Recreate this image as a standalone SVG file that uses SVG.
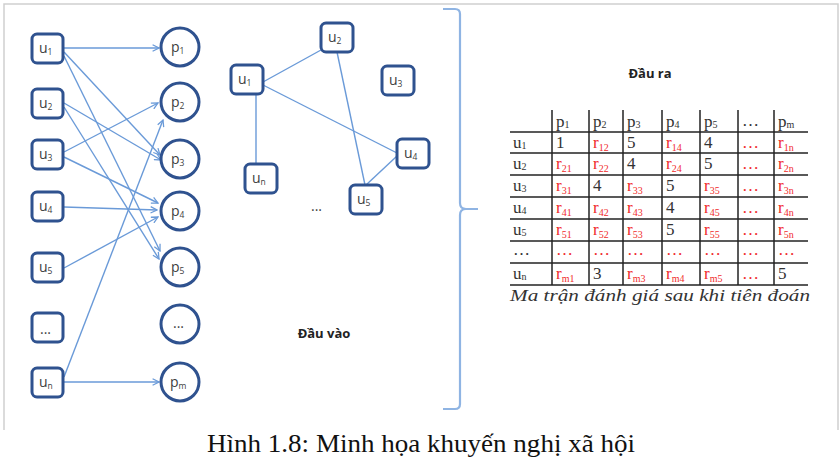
<svg xmlns="http://www.w3.org/2000/svg" width="840" height="462" viewBox="0 0 840 462">
<style>
.frame{fill:none;stroke:#cfcfcf;stroke-width:1.5}
.ub{fill:#fff;stroke:#2f528f;stroke-width:3}
.pc{fill:#fff;stroke:#2f528f;stroke-width:3}
.lbl{font-family:"Open Sans","Liberation Sans",sans-serif;font-size:14px;fill:#404040}
.sb{font-size:8.5px}
.e{fill:none;stroke:#6a9ad8;stroke-width:1.4}
.ea{fill:none;stroke:#6a9ad8;stroke-width:1.4;marker-end:url(#ar)}
.brace{fill:none;stroke:#8fb4e3;stroke-width:2.2}
.hd{font-family:"Open Sans","Liberation Sans",sans-serif;font-size:13px;font-weight:bold;fill:#222}
.tl{stroke:#222;stroke-width:1.5}
.tk{font-family:"Liberation Serif",serif;font-size:17px;fill:#333}
.tr{font-family:"Liberation Serif",serif;font-size:17px;fill:#f02b2b}
.ts{font-size:10px}
.cap{font-family:"Liberation Serif",serif;font-size:17px;font-style:italic;fill:#333}
.fig{font-family:"Liberation Serif",serif;font-size:25px;fill:#111}
</style>
<defs>
<marker id="ar" viewBox="0 0 10 10" refX="9" refY="5" markerWidth="8" markerHeight="8" markerUnits="userSpaceOnUse" orient="auto">
<path d="M1,1 L9,5 L1,9" fill="none" stroke="#6a9ad8" stroke-width="1.6"/>
</marker>
</defs>
<rect width="840" height="462" fill="#fff"/>
<polyline class="frame" points="4,430 4,4 838,4 838,430"/>

<g id="connectors">
<line class="ea" x1="64" y1="48" x2="159" y2="48"/>
<line class="ea" x1="64" y1="52" x2="160" y2="155"/>
<line class="ea" x1="64" y1="56" x2="160" y2="251"/>
<line class="ea" x1="64" y1="103" x2="161" y2="160"/>
<line class="ea" x1="64" y1="107" x2="159" y2="259"/>
<line class="ea" x1="64" y1="152" x2="158" y2="103"/>
<line class="ea" x1="64" y1="157" x2="158" y2="203"/>
<line class="ea" x1="64" y1="207" x2="157" y2="210"/>
<line class="ea" x1="64" y1="268" x2="158" y2="217"/>
<line class="ea" x1="64" y1="377" x2="163" y2="120"/>
<line class="ea" x1="64" y1="382" x2="159" y2="382"/>
<line class="e" x1="263" y1="82" x2="321" y2="50"/>
<line class="e" x1="263" y1="85" x2="397" y2="153"/>
<line class="e" x1="256" y1="93" x2="256" y2="163"/>
<line class="e" x1="337" y1="52" x2="365" y2="185"/>
<line class="e" x1="397" y1="156" x2="366" y2="185"/>
</g>

<g id="bu1"><rect class="ub" x="32" y="34" width="31" height="29" rx="5"/><text class="lbl" x="39" y="53">u<tspan class="sb" dy="2">1</tspan></text></g>
<g id="bu2"><rect class="ub" x="32" y="89" width="31" height="29" rx="5"/><text class="lbl" x="39" y="108">u<tspan class="sb" dy="2">2</tspan></text></g>
<g id="bu3"><rect class="ub" x="32" y="140" width="31" height="29" rx="5"/><text class="lbl" x="39" y="159">u<tspan class="sb" dy="2">3</tspan></text></g>
<g id="bu4"><rect class="ub" x="32" y="192" width="31" height="29" rx="5"/><text class="lbl" x="39" y="211">u<tspan class="sb" dy="2">4</tspan></text></g>
<g id="bu5"><rect class="ub" x="32" y="253" width="31" height="29" rx="5"/><text class="lbl" x="39" y="272">u<tspan class="sb" dy="2">5</tspan></text></g>
<g id="budots"><rect class="ub" x="32" y="313" width="31" height="29" rx="5"/><text class="lbl" x="40" y="334">...</text></g>
<g id="bun"><rect class="ub" x="32" y="368" width="31" height="29" rx="5"/><text class="lbl" x="39" y="387">u<tspan class="sb" dy="2">n</tspan></text></g>

<g id="p1"><circle class="pc" cx="180" cy="47" r="19"/><text class="lbl" x="171" y="52">p<tspan class="sb" dy="2">1</tspan></text></g>
<g id="p2"><circle class="pc" cx="180" cy="102" r="19"/><text class="lbl" x="171" y="107">p<tspan class="sb" dy="2">2</tspan></text></g>
<g id="p3"><circle class="pc" cx="180" cy="159" r="19"/><text class="lbl" x="171" y="164">p<tspan class="sb" dy="2">3</tspan></text></g>
<g id="p4"><circle class="pc" cx="180" cy="211" r="19"/><text class="lbl" x="171" y="216">p<tspan class="sb" dy="2">4</tspan></text></g>
<g id="p5"><circle class="pc" cx="180" cy="267" r="19"/><text class="lbl" x="171" y="272">p<tspan class="sb" dy="2">5</tspan></text></g>
<g id="pdots"><circle class="pc" cx="180" cy="324" r="19"/><text class="lbl" x="173" y="328">...</text></g>
<g id="pm"><circle class="pc" cx="180" cy="382" r="19"/><text class="lbl" x="170" y="387">p<tspan class="sb" dy="2">m</tspan></text></g>

<g id="gu1"><rect class="ub" x="231" y="65" width="32" height="29" rx="5"/><text class="lbl" x="238" y="84">u<tspan class="sb" dy="2">1</tspan></text></g>
<g id="gu2"><rect class="ub" x="321" y="23" width="32" height="29" rx="5"/><text class="lbl" x="328" y="42">u<tspan class="sb" dy="2">2</tspan></text></g>
<g id="gu3"><rect class="ub" x="382" y="66" width="32" height="29" rx="5"/><text class="lbl" x="389" y="85">u<tspan class="sb" dy="2">3</tspan></text></g>
<g id="gu4"><rect class="ub" x="397" y="139" width="32" height="29" rx="5"/><text class="lbl" x="404" y="158">u<tspan class="sb" dy="2">4</tspan></text></g>
<g id="gun"><rect class="ub" x="245" y="164" width="32" height="29" rx="5"/><text class="lbl" x="252" y="183">u<tspan class="sb" dy="2">n</tspan></text></g>
<g id="gu5"><rect class="ub" x="350" y="185" width="32" height="29" rx="5"/><text class="lbl" x="357" y="204">u<tspan class="sb" dy="2">5</tspan></text></g>
<text class="lbl" x="311" y="211" font-size="11">...</text>

<text class="hd" x="324" y="338" text-anchor="middle">Đầu vào</text>
<path class="brace" d="M443,9 L455,9 Q460,9 460,14 L460,203 Q460,209 466,209 L478,209 M466,209 Q460,209 460,215 L460,404 Q460,409 455,409 L443,409"/>

<g id="output">
<text class="hd" x="650" y="78" text-anchor="middle">Đầu ra</text>
<g>
<line class="tl" x1="510" y1="132" x2="808" y2="132"/>
<line class="tl" x1="510" y1="153" x2="808" y2="153"/>
<line class="tl" x1="510" y1="175" x2="808" y2="175"/>
<line class="tl" x1="510" y1="197" x2="808" y2="197"/>
<line class="tl" x1="510" y1="219" x2="808" y2="219"/>
<line class="tl" x1="510" y1="241" x2="808" y2="241"/>
<line class="tl" x1="510" y1="263" x2="808" y2="263"/>
<line class="tl" x1="510" y1="285" x2="808" y2="285"/>
<line class="tl" x1="552" y1="110" x2="552" y2="285"/>
<line class="tl" x1="589" y1="110" x2="589" y2="285"/>
<line class="tl" x1="623" y1="110" x2="623" y2="285"/>
<line class="tl" x1="662" y1="110" x2="662" y2="285"/>
<line class="tl" x1="700" y1="110" x2="700" y2="285"/>
<line class="tl" x1="738" y1="110" x2="738" y2="285"/>
<line class="tl" x1="774" y1="110" x2="774" y2="285"/>
</g>
<g class="tk">
<text x="556" y="127">p<tspan class="ts" dy="1">1</tspan></text>
<text x="593" y="127">p<tspan class="ts" dy="1">2</tspan></text>
<text x="627" y="127">p<tspan class="ts" dy="1">3</tspan></text>
<text x="666" y="127">p<tspan class="ts" dy="1">4</tspan></text>
<text x="704" y="127">p<tspan class="ts" dy="1">5</tspan></text>
<text x="742" y="126">…</text>
<text x="778" y="127">p<tspan class="ts" dy="1">m</tspan></text>
<text x="513" y="148">u<tspan class="ts" dy="1">1</tspan></text>
<text x="513" y="169">u<tspan class="ts" dy="1">2</tspan></text>
<text x="513" y="191">u<tspan class="ts" dy="1">3</tspan></text>
<text x="513" y="213">u<tspan class="ts" dy="1">4</tspan></text>
<text x="513" y="235">u<tspan class="ts" dy="1">5</tspan></text>
<text x="513" y="255">…</text>
<text x="513" y="279">u<tspan class="ts" dy="1">n</tspan></text>
<text x="556" y="148">1</text>
<text x="627" y="148">5</text>
<text x="704" y="148">4</text>
<text x="627" y="169">4</text>
<text x="704" y="169">5</text>
<text x="593" y="191">4</text>
<text x="666" y="191">5</text>
<text x="666" y="213">4</text>
<text x="666" y="235">5</text>
<text x="593" y="279">3</text>
<text x="778" y="279">5</text>
</g>
<g class="tr">
<text x="593" y="148">r<tspan class="ts" dy="3">12</tspan></text>
<text x="666" y="148">r<tspan class="ts" dy="3">14</tspan></text>
<text x="742" y="148">…</text>
<text x="778" y="148">r<tspan class="ts" dy="3">1n</tspan></text>
<text x="556" y="169">r<tspan class="ts" dy="3">21</tspan></text>
<text x="593" y="169">r<tspan class="ts" dy="3">22</tspan></text>
<text x="666" y="169">r<tspan class="ts" dy="3">24</tspan></text>
<text x="742" y="169">…</text>
<text x="778" y="169">r<tspan class="ts" dy="3">2n</tspan></text>
<text x="556" y="191">r<tspan class="ts" dy="3">31</tspan></text>
<text x="627" y="191">r<tspan class="ts" dy="3">33</tspan></text>
<text x="704" y="191">r<tspan class="ts" dy="3">35</tspan></text>
<text x="742" y="191">…</text>
<text x="778" y="191">r<tspan class="ts" dy="3">3n</tspan></text>
<text x="556" y="213">r<tspan class="ts" dy="3">41</tspan></text>
<text x="593" y="213">r<tspan class="ts" dy="3">42</tspan></text>
<text x="627" y="213">r<tspan class="ts" dy="3">43</tspan></text>
<text x="704" y="213">r<tspan class="ts" dy="3">45</tspan></text>
<text x="742" y="213">…</text>
<text x="778" y="213">r<tspan class="ts" dy="3">4n</tspan></text>
<text x="556" y="235">r<tspan class="ts" dy="3">51</tspan></text>
<text x="593" y="235">r<tspan class="ts" dy="3">52</tspan></text>
<text x="627" y="235">r<tspan class="ts" dy="3">53</tspan></text>
<text x="704" y="235">r<tspan class="ts" dy="3">55</tspan></text>
<text x="742" y="235">…</text>
<text x="778" y="235">r<tspan class="ts" dy="3">5n</tspan></text>
<text x="556" y="255">…</text>
<text x="593" y="255">…</text>
<text x="627" y="255">…</text>
<text x="666" y="255">…</text>
<text x="704" y="255">…</text>
<text x="742" y="255">…</text>
<text x="778" y="255">…</text>
<text x="556" y="279">r<tspan class="ts" dy="3">m1</tspan></text>
<text x="627" y="279">r<tspan class="ts" dy="3">m3</tspan></text>
<text x="666" y="279">r<tspan class="ts" dy="3">m4</tspan></text>
<text x="704" y="279">r<tspan class="ts" dy="3">m5</tspan></text>
<text x="742" y="279">…</text>
</g>
<text class="cap" x="660" y="301" text-anchor="middle" textLength="300" lengthAdjust="spacingAndGlyphs">Ma trận đánh giá sau khi tiên đoán</text>
</g>

<text class="fig" x="421" y="452" text-anchor="middle" textLength="428" lengthAdjust="spacingAndGlyphs">Hình 1.8: Minh họa khuyến nghị xã hội</text>
</svg>
